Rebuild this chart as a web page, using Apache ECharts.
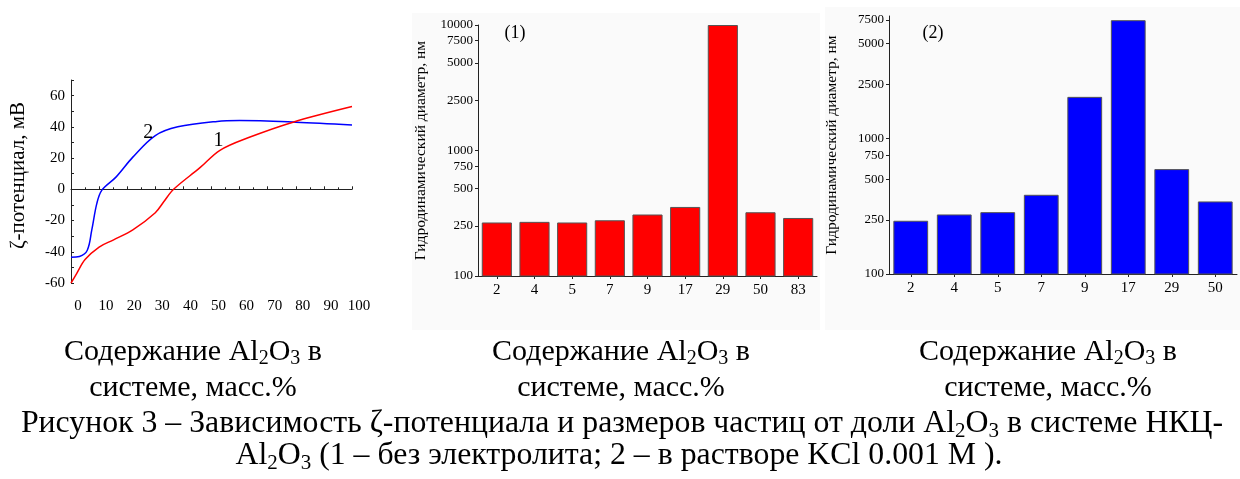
<!DOCTYPE html>
<html><head><meta charset="utf-8">
<script src="https://cdn.jsdelivr.net/npm/echarts@6/dist/echarts.min.js"></script>
<style>html,body{margin:0;padding:0;background:#fff}#c{width:1240px;height:479px}</style>
</head><body><div id="c"></div>
<script>
// ---- Panel (left): zeta potential vs Al2O3 content ----
const zetaRedX  = [0, 2, 5, 10, 15, 22, 30, 33, 36.5, 46, 53, 63, 79, 100];
const zetaRedY  = [-60, -54, -45, -37, -32.5, -26, -15, -8, 0, 14, 25, 33, 43, 53];
const zetaBlueX = [0, 3, 5.8, 7.4, 9.2, 11, 16, 22, 30, 38, 52, 60, 80, 100];
const zetaBlueY = [-43.5, -43, -39, -26, -9, -0.5, 7.8, 20.6, 34.4, 40, 43.5, 44, 43, 41.2];
const zetaYLabels = [-60, -40, -20, 0, 20, 40, 60];

// ---- Panel (1): hydrodynamic diameter, no electrolyte ----
const cats1 = ['2', '4', '5', '7', '9', '17', '29', '50', '83'];
const diam1 = [267, 270, 267, 278, 309, 355, 10000, 322, 290];
const ticks1 = [100, 250, 500, 750, 1000, 2500, 5000, 7500, 10000];

// ---- Panel (2): hydrodynamic diameter, KCl 0.001 M ----
const cats2 = ['2', '4', '5', '7', '9', '17', '29', '50'];
const diam2 = [247, 275, 286, 384, 2026, 7450, 594, 343];
const ticks2 = [100, 250, 500, 750, 1000, 2500, 5000, 7500];

const SERIF = '"Liberation Serif", "Times New Roman", serif';
const AX = '#222';

const chart = echarts.init(document.getElementById('c'));

const richSmall = {
  m: {fontSize: 30, fontFamily: SERIF, color: '#000', lineHeight: 34},
  s: {fontSize: 20, fontFamily: SERIF, color: '#000', verticalAlign: 'bottom'}
};
const richBig = {
  m: {fontSize: 31.8, fontFamily: SERIF, color: '#000', lineHeight: 36},
  s: {fontSize: 21, fontFamily: SERIF, color: '#000', verticalAlign: 'bottom'}
};
function capText(cx, cy, str, rich) {
  return {type: 'text', z: 10, x: cx, y: cy,
    style: {text: str, rich: rich, align: 'center', verticalAlign: 'middle'}};
}

const logAxis = (gi, maxV, ticks) => ({
  type: 'log', logBase: 10, gridIndex: gi, min: 100, max: maxV,
  name: 'Гидродинамический диаметр, нм', nameLocation: 'middle', nameGap: 49,
  nameTextStyle: {fontFamily: SERIF, fontSize: 15.5, color: '#000'},
  axisLine: {show: true, lineStyle: {color: AX, width: 1}},
  axisTick: {show: true, length: 3, customValues: ticks, lineStyle: {color: AX}},
  axisLabel: {customValues: ticks, fontFamily: SERIF, fontSize: 13, color: '#000', margin: 5,
              formatter: v => String(Math.round(v))},
  splitLine: {show: false}, minorTick: {show: false}
});
const catAxis = (gi, cats) => ({
  type: 'category', gridIndex: gi, data: cats,
  axisLine: {show: true, lineStyle: {color: AX, width: 1}},
  axisTick: {show: true, alignWithLabel: true, length: 3, lineStyle: {color: AX}},
  axisLabel: {fontFamily: SERIF, fontSize: 15, color: '#000', margin: 7}
});

chart.setOption({
  animation: false,
  backgroundColor: '#fff',
  grid: [
    {left: 71, top: 80, width: 281, height: 203},
    {left: 478, top: 25, width: 339, height: 251},
    {left: 889, top: 16, width: 348, height: 258}
  ],
  xAxis: [
    {type: 'value', gridIndex: 0, min: 0, max: 100, interval: 10,
     axisLine: {onZero: true, lineStyle: {color: AX, width: 1}},
     axisTick: {show: true, inside: true, length: 3, lineStyle: {color: AX}},
     minorTick: {show: true, splitNumber: 2, length: 2, lineStyle: {color: AX}},
     axisLabel: {fontFamily: SERIF, fontSize: 15, color: '#000', margin: 16, padding: [0, 0, 0, 14]},
     splitLine: {show: false}},
    catAxis(1, cats1),
    catAxis(2, cats2)
  ],
  yAxis: [
    {type: 'value', gridIndex: 0, min: -60, max: 70, interval: 10,
     name: 'ζ-потенциал, мВ', nameLocation: 'middle', nameGap: 42,
     nameTextStyle: {fontFamily: SERIF, fontSize: 21, color: '#000', padding: [0, 0, 0, 12]},
     axisLine: {show: true, lineStyle: {color: AX, width: 1}},
     axisTick: {show: true, inside: true, length: 3, lineStyle: {color: AX}},
     axisLabel: {customValues: zetaYLabels, fontFamily: SERIF, fontSize: 15, color: '#000', margin: 6},
     splitLine: {show: false}},
    logAxis(1, 10000, ticks1),
    logAxis(2, 8000, ticks2)
  ],
  series: [
    {type: 'line', xAxisIndex: 0, yAxisIndex: 0, showSymbol: false, smooth: 0.35,
     data: zetaBlueX.map((x, i) => [x, zetaBlueY[i]]),
     lineStyle: {color: '#0000ff', width: 1.5}, itemStyle: {color: '#0000ff'},
     markPoint: {symbol: 'circle', symbolSize: 0, silent: true,
       label: {show: true, formatter: '2', fontFamily: SERIF, fontSize: 20, color: '#000'},
       data: [{coord: [27.5, 36.3]}]}},
    {type: 'line', xAxisIndex: 0, yAxisIndex: 0, showSymbol: false, smooth: 0.35,
     data: zetaRedX.map((x, i) => [x, zetaRedY[i]]),
     lineStyle: {color: '#ff0000', width: 1.5}, itemStyle: {color: '#ff0000'},
     markPoint: {symbol: 'circle', symbolSize: 0, silent: true,
       label: {show: true, formatter: '1', fontFamily: SERIF, fontSize: 20, color: '#000'},
       data: [{coord: [52.5, 31.2]}]}},
    {type: 'bar', xAxisIndex: 1, yAxisIndex: 1, data: diam1, barCategoryGap: '20%',
     itemStyle: {color: '#ff0000', borderColor: '#555', borderWidth: 1}},
    {type: 'bar', xAxisIndex: 2, yAxisIndex: 2, data: diam2, barCategoryGap: '20%',
     itemStyle: {color: '#0000ff', borderColor: '#555', borderWidth: 1}}
  ],
  graphic: [
    {type: 'rect', z: -10, shape: {x: 412, y: 13, width: 408, height: 317}, style: {fill: '#fafafa'}},
    {type: 'rect', z: -10, shape: {x: 825, y: 7, width: 415, height: 323}, style: {fill: '#fafafa'}},
    {type: 'text', z: 10, x: 515, y: 33, style: {text: '(1)', font: '18px ' + SERIF, fill: '#000', align: 'center', verticalAlign: 'middle'}},
    {type: 'text', z: 10, x: 933, y: 33, style: {text: '(2)', font: '18px ' + SERIF, fill: '#000', align: 'center', verticalAlign: 'middle'}},
    capText(193, 352, '{m|Содержание Al}{s|2}{m|O}{s|3}{m| в}', richSmall),
    capText(193, 388, '{m|системе, масс.%}', richSmall),
    capText(621, 352, '{m|Содержание Al}{s|2}{m|O}{s|3}{m| в}', richSmall),
    capText(621, 388, '{m|системе, масс.%}', richSmall),
    capText(1048, 352, '{m|Содержание Al}{s|2}{m|O}{s|3}{m| в}', richSmall),
    capText(1048, 388, '{m|системе, масс.%}', richSmall),
    capText(622, 424, '{m|Рисунок 3 – Зависимость ζ-потенциала и размеров частиц от доли Al}{s|2}{m|O}{s|3}{m| в системе НКЦ-}', richBig),
    capText(619, 456, '{m|Al}{s|2}{m|O}{s|3}{m| (1 – без электролита; 2 – в растворе KCl 0.001 М ).}', richBig)
  ]
});
</script>
</body></html>
